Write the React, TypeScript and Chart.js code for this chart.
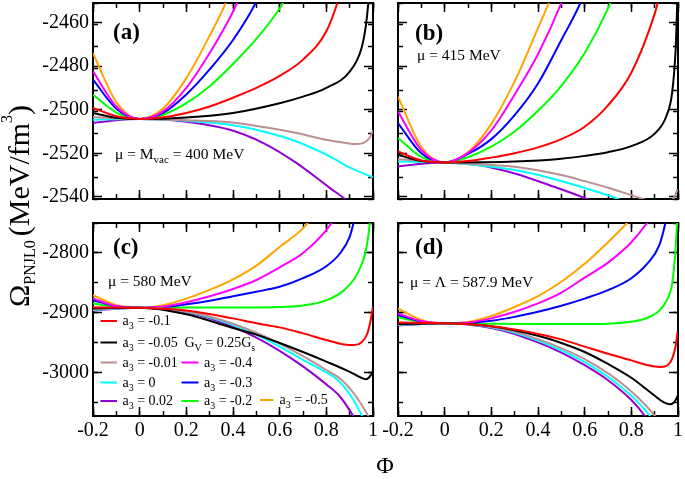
import { useEffect, useRef } from 'react';
import { Chart, registerables } from 'chart.js';

Chart.register(...registerables);

const W = 685;
const H = 479;
const SERIF = "'Liberation Serif', 'Times New Roman', Times, serif";

type Pt = [number, number];

// ---------------- Panel (a): mu = M_vac = 400 MeV ----------------
const aRed: Pt[] = [[-0.2, -2499.2], [-0.1, -2503], [0, -2504.3], [0.1, -2503.5], [0.2, -2501.5], [0.3, -2498.5], [0.4, -2494.5], [0.5, -2490], [0.6, -2484.5], [0.7, -2477], [0.8, -2464], [0.85, -2450], [0.86, -2446]];
const aBlack: Pt[] = [[-0.2, -2501.5], [-0.1, -2503.7], [0, -2504.3], [0.2, -2503.6], [0.4, -2501.5], [0.6, -2497], [0.7, -2494], [0.8, -2490], [0.9, -2482.5], [0.95, -2472], [0.97, -2461], [0.98, -2451], [0.985, -2445]];
const aBrown: Pt[] = [[-0.2, -2503.4], [-0.1, -2504], [0, -2504.3], [0.2, -2504.8], [0.387, -2505.8], [0.55, -2508.3], [0.673, -2510.7], [0.8, -2513.8], [0.887, -2515.3], [0.923, -2515.8], [0.96, -2515.2], [0.985, -2513], [1.0, -2509.5]];
const aCyan: Pt[] = [[-0.2, -2504.6], [-0.1, -2504.4], [0, -2504.3], [0.2, -2505.1], [0.387, -2506.9], [0.53, -2510], [0.673, -2514.6], [0.816, -2521.5], [0.9, -2526.5], [1.0, -2531]];
const aPurple: Pt[] = [[-0.2, -2506.1], [-0.1, -2504.8], [0, -2504.3], [0.1, -2504.5], [0.2, -2505.5], [0.387, -2509.2], [0.53, -2515.3], [0.673, -2524.5], [0.816, -2536], [0.88, -2541], [0.9, -2543]];
const aMagenta: Pt[] = [[-0.2, -2482.4], [-0.1, -2498.5], [0, -2504.3], [0.1, -2500.8], [0.2, -2490], [0.3, -2474], [0.4, -2455], [0.43, -2448]];
const aBlue: Pt[] = [[-0.2, -2486.2], [-0.1, -2499.5], [0, -2504.3], [0.1, -2501.5], [0.2, -2493], [0.3, -2481.5], [0.4, -2468], [0.5, -2450.4], [0.51, -2448]];
const aGreen: Pt[] = [[-0.2, -2493.1], [-0.1, -2501.3], [0, -2504.3], [0.1, -2502.3], [0.2, -2497], [0.3, -2489.2], [0.4, -2479], [0.5, -2467.5], [0.6, -2453.5], [0.63, -2448]];
const aOrange: Pt[] = [[-0.2, -2474], [-0.1, -2496.5], [0, -2504.3], [0.1, -2499.5], [0.2, -2485.5], [0.3, -2466], [0.373, -2450], [0.38, -2448]];

// ---------------- Panel (b): mu = 415 MeV ----------------
const bRed: Pt[] = [[-0.2, -2519.2], [-0.1, -2523.3], [0, -2524.2], [0.1, -2523.6], [0.2, -2522], [0.3, -2520], [0.4, -2517.3], [0.5, -2513.5], [0.6, -2507.8], [0.7, -2498], [0.8, -2483], [0.9, -2456], [0.92, -2448]];
const bBlack: Pt[] = [[-0.2, -2520.7], [-0.1, -2523.6], [0, -2524.2], [0.3, -2523.8], [0.5, -2522.5], [0.6, -2521.2], [0.7, -2519.5], [0.8, -2516.7], [0.9, -2511], [0.95, -2503], [0.975, -2492], [0.99, -2472], [0.997, -2450], [1.0, -2440]];
const bBrown: Pt[] = [[-0.2, -2522.7], [0, -2524.2], [0.3, -2526.2], [0.5, -2530], [0.6, -2532.8], [0.7, -2535.8], [0.8, -2539.2], [0.9, -2542.5], [0.96, -2543], [0.985, -2540], [0.998, -2536.5]];
const bCyan: Pt[] = [[-0.2, -2523.8], [0, -2524.2], [0.3, -2527.7], [0.5, -2532.7], [0.6, -2535.9], [0.7, -2539.3], [0.8, -2543.5]];
const bPurple: Pt[] = [[-0.2, -2526.1], [-0.1, -2524.8], [0, -2524.2], [0.15, -2525.5], [0.3, -2529.3], [0.45, -2534.7], [0.6, -2540.6], [0.65, -2543]];
const bMagenta: Pt[] = [[-0.2, -2500.8], [-0.1, -2518.5], [0, -2524.2], [0.1, -2519.8], [0.2, -2509.5], [0.3, -2493], [0.4, -2474.5], [0.5, -2451], [0.51, -2448]];
const bBlue: Pt[] = [[-0.2, -2506.1], [-0.1, -2520], [0, -2524.2], [0.1, -2520.3], [0.2, -2513.5], [0.3, -2502.5], [0.4, -2488], [0.5, -2468], [0.59, -2449], [0.6, -2446]];
const bGreen: Pt[] = [[-0.2, -2513], [-0.1, -2521.7], [0, -2524.2], [0.1, -2521.8], [0.2, -2517], [0.3, -2510], [0.4, -2500.5], [0.5, -2489], [0.6, -2474], [0.7, -2453.5], [0.72, -2448]];
const bOrange: Pt[] = [[-0.2, -2494], [-0.1, -2517], [0, -2524.2], [0.1, -2519.5], [0.2, -2506.5], [0.3, -2487], [0.4, -2462.5], [0.45, -2450], [0.46, -2447]];

// ---------------- Panel (c): mu = 580 MeV ----------------
const cRed: Pt[] = [[-0.2, -2890.6], [0, -2891.2], [0.2, -2896], [0.4, -2909], [0.5, -2917], [0.6, -2924], [0.7, -2934], [0.8, -2945], [0.87, -2952], [0.92, -2953.5], [0.95, -2949], [0.975, -2935], [0.99, -2912], [1.0, -2889]];
const cBlack: Pt[] = [[-0.2, -2892.3], [0, -2891.2], [0.2, -2902], [0.4, -2925], [0.5, -2936], [0.6, -2950], [0.7, -2965], [0.8, -2981], [0.9, -2998], [0.95, -3008], [0.97, -3010.5], [0.99, -3004], [1.0, -2996]];
const cBrown: Pt[] = [[-0.2, -2894], [-0.1, -2892.3], [0, -2891.2], [0.1, -2892.5], [0.2, -2897.5], [0.3, -2906], [0.4, -2918], [0.5, -2933], [0.6, -2951], [0.7, -2972], [0.8, -2995], [0.867, -3012], [0.92, -3035], [0.979, -3071], [0.99, -3079]];
const cCyan: Pt[] = [[-0.2, -2895], [-0.1, -2892.6], [0, -2891.2], [0.1, -2892.8], [0.2, -2898], [0.3, -2907], [0.4, -2920], [0.5, -2936], [0.6, -2956], [0.7, -2978], [0.8, -2999], [0.85, -3012], [0.9, -3035], [0.953, -3071], [0.97, -3083]];
const cPurple: Pt[] = [[-0.2, -2896], [-0.1, -2893], [0, -2891.2], [0.1, -2893], [0.2, -2899], [0.3, -2909], [0.4, -2923], [0.5, -2941], [0.6, -2963], [0.7, -2989], [0.8, -3019], [0.86, -3040], [0.914, -3071], [0.93, -3082]];
const cMagenta: Pt[] = [[-0.2, -2875.7], [-0.1, -2888.5], [0, -2891.2], [0.1, -2889.2], [0.2, -2882], [0.3, -2872], [0.4, -2860], [0.5, -2845], [0.6, -2824], [0.7, -2800], [0.8, -2762], [0.83, -2745]];
const cBlue: Pt[] = [[-0.2, -2878.5], [-0.1, -2889], [0, -2891.2], [0.1, -2890], [0.2, -2885.5], [0.3, -2879.5], [0.4, -2872], [0.5, -2864.5], [0.6, -2856.4], [0.7, -2842], [0.8, -2822], [0.86, -2800], [0.9, -2773], [0.92, -2745]];
const cGreen: Pt[] = [[-0.2, -2884], [-0.1, -2889.8], [0, -2891.2], [0.2, -2891], [0.4, -2890.8], [0.6, -2890], [0.7, -2887.5], [0.8, -2879], [0.87, -2864], [0.92, -2843], [0.95, -2820], [0.97, -2795], [0.985, -2755], [0.99, -2735]];
const cOrange: Pt[] = [[-0.2, -2870.2], [-0.1, -2887], [0, -2891.2], [0.1, -2887], [0.2, -2876], [0.3, -2861.5], [0.4, -2844], [0.5, -2821], [0.6, -2790], [0.7, -2759], [0.73, -2745]];

// ---------------- Panel (d): mu = Lambda = 587.9 MeV ----------------
const dRed: Pt[] = [[-0.2, -2916], [0, -2917.1], [0.2, -2922], [0.366, -2932], [0.5, -2944], [0.6, -2956], [0.7, -2968], [0.8, -2979], [0.87, -2987], [0.92, -2990], [0.95, -2988], [0.975, -2976], [0.99, -2955], [0.998, -2932]];
const dBlack: Pt[] = [[-0.2, -2918.5], [-0.1, -2917.8], [0, -2917.1], [0.2, -2922], [0.4, -2938], [0.5, -2950], [0.6, -2965], [0.7, -2985], [0.8, -3008], [0.9, -3038], [0.94, -3049], [0.964, -3052], [0.985, -3048], [1.0, -3037]];
const dBrown: Pt[] = [[-0.2, -2919.5], [-0.1, -2918], [0, -2917.1], [0.1, -2918.5], [0.2, -2923], [0.3, -2931.5], [0.4, -2943.5], [0.5, -2958.5], [0.6, -2977], [0.742, -3012], [0.82, -3038], [0.9, -3071], [0.92, -3082]];
const dCyan: Pt[] = [[-0.2, -2920], [-0.1, -2918.2], [0, -2917.1], [0.1, -2918.7], [0.2, -2924], [0.3, -2933], [0.4, -2946], [0.5, -2962], [0.6, -2982], [0.72, -3012], [0.8, -3038], [0.879, -3071], [0.9, -3083]];
const dPurple: Pt[] = [[-0.2, -2921], [-0.1, -2918.5], [0, -2917.1], [0.1, -2919], [0.2, -2925], [0.3, -2935], [0.4, -2949], [0.5, -2966], [0.6, -2987], [0.7, -3012], [0.8, -3045], [0.857, -3071], [0.88, -3085]];
const dMagenta: Pt[] = [[-0.2, -2900.6], [-0.1, -2913.5], [0, -2917.1], [0.1, -2915.8], [0.2, -2909], [0.3, -2898], [0.4, -2884], [0.5, -2866], [0.6, -2841], [0.7, -2816], [0.8, -2782], [0.867, -2750], [0.88, -2742]];
const dBlue: Pt[] = [[-0.2, -2903.3], [-0.1, -2914], [0, -2917.1], [0.1, -2916.5], [0.2, -2913], [0.3, -2906.5], [0.4, -2898], [0.5, -2888], [0.6, -2876], [0.7, -2862], [0.8, -2842], [0.87, -2817], [0.92, -2787], [0.946, -2750], [0.95, -2742]];
const dGreen: Pt[] = [[-0.2, -2907.2], [-0.1, -2915], [0, -2917.1], [0.2, -2918], [0.4, -2918.4], [0.6, -2918.4], [0.7, -2917.8], [0.8, -2914.5], [0.87, -2908], [0.92, -2896], [0.95, -2880], [0.975, -2851], [0.989, -2796], [0.996, -2750], [1.0, -2720]];
const dOrange: Pt[] = [[-0.2, -2892.3], [-0.1, -2911.5], [0, -2917.1], [0.1, -2914.8], [0.2, -2905], [0.3, -2890], [0.4, -2872], [0.5, -2848], [0.6, -2818], [0.7, -2782], [0.781, -2750], [0.8, -2741]];

// ---------------- axes ----------------
const PHI_MIN = -0.2;
const PHI_MAX = 1.0;
const PHI_MAJOR = 0.2;
const PHI_MINOR = 0.1;
const TOP_RANGE = [-2541, -2451];
const TOP_MAJOR = 20;
const TOP_MINOR = 10;
const BOT_RANGE = [-3071.7, -2750];
const BOT_MAJOR = 100;
const BOT_MINOR = 50;

// legend (a3 values)
const LEGEND_COL1: [string, string][] = [['red', '-0.1'], ['black', '-0.05'], ['brown', '-0.01'], ['cyan', '0'], ['purple', '0.02']];
const LEGEND_COL2: [string, string][] = [['magenta', '-0.4'], ['blue', '-0.3'], ['green', '-0.2']];
const LEGEND_COL3: [string, string][] = [['orange', '-0.5']];

const COLOR: Record<string, string> = {
  red: '#ff0000', black: '#000000', brown: '#bc8f8f', cyan: '#00ffff', purple: '#9400d3',
  magenta: '#ff00ff', blue: '#0000ff', green: '#00ff00', orange: '#ffa500',
};
const DRAW_ORDER = ['red', 'black', 'brown', 'cyan', 'purple', 'magenta', 'blue', 'green', 'orange'];

type Run = { t: string; s?: 'sub' | 'sup'; dx?: number };

interface Panel {
  id: string;
  area: { l: number; t: number; r: number; b: number };
  yRange: number[];
  yMajor: number;
  yMinor: number;
  yLabels: boolean;
  xLabels: boolean;
  series: Record<string, Pt[]>;
  tag: string;
  tagPos: [number, number];
  mu: Run[];
  muPos: [number, number];
}

const PANELS: Panel[] = [
  {
    id: 'a', area: { l: 93, t: 3, r: 373, b: 199 }, yRange: TOP_RANGE, yMajor: TOP_MAJOR, yMinor: TOP_MINOR,
    yLabels: true, xLabels: false,
    series: { red: aRed, black: aBlack, brown: aBrown, cyan: aCyan, purple: aPurple, magenta: aMagenta, blue: aBlue, green: aGreen, orange: aOrange },
    tag: '(a)', tagPos: [113, 39], mu: [{ t: 'μ = M' }, { t: 'vac', s: 'sub' }, { t: ' = 400 MeV' }], muPos: [115, 159],
  },
  {
    id: 'b', area: { l: 398, t: 3, r: 678, b: 199 }, yRange: TOP_RANGE, yMajor: TOP_MAJOR, yMinor: TOP_MINOR,
    yLabels: false, xLabels: false,
    series: { red: bRed, black: bBlack, brown: bBrown, cyan: bCyan, purple: bPurple, magenta: bMagenta, blue: bBlue, green: bGreen, orange: bOrange },
    tag: '(b)', tagPos: [415, 40], mu: [{ t: 'μ = 415 MeV' }], muPos: [417, 60],
  },
  {
    id: 'c', area: { l: 93, t: 223, r: 373, b: 416 }, yRange: BOT_RANGE, yMajor: BOT_MAJOR, yMinor: BOT_MINOR,
    yLabels: true, xLabels: true,
    series: { red: cRed, black: cBlack, brown: cBrown, cyan: cCyan, purple: cPurple, magenta: cMagenta, blue: cBlue, green: cGreen, orange: cOrange },
    tag: '(c)', tagPos: [113, 254], mu: [{ t: 'μ = 580 MeV' }], muPos: [108, 286],
  },
  {
    id: 'd', area: { l: 398, t: 223, r: 678, b: 416 }, yRange: BOT_RANGE, yMajor: BOT_MAJOR, yMinor: BOT_MINOR,
    yLabels: false, xLabels: true,
    series: { red: dRed, black: dBlack, brown: dBrown, cyan: dCyan, purple: dPurple, magenta: dMagenta, blue: dBlue, green: dGreen, orange: dOrange },
    tag: '(d)', tagPos: [415, 254], mu: [{ t: 'μ = Λ = 587.9 MeV' }], muPos: [410, 287],
  },
];

const Y_LABEL_BOX = 60;
const X_LABEL_BOX = 40;

function drawRuns(ctx: CanvasRenderingContext2D, x: number, y: number, list: Run[], size: number,
  o: { bold?: boolean; sub?: number; subDy?: number; supDy?: number } = {}) {
  let cx = x;
  const subSize = o.sub ?? size * 0.7;
  for (const r of list) {
    const fs = r.s ? subSize : size;
    ctx.font = `${o.bold ? 'bold ' : ''}${fs}px ${SERIF}`;
    const dy = r.s === 'sub' ? (o.subDy ?? size * 0.3) : r.s === 'sup' ? -(o.supDy ?? size * 0.5) : 0;
    cx += r.dx ?? 0;
    ctx.fillText(r.t, cx, y + dy);
    cx += ctx.measureText(r.t).width;
  }
  return cx;
}

function fmt(v: number) {
  const r = Math.round(v * 10) / 10;
  return Object.is(r, -0) ? '0' : String(r);
}

function tickScale(position: string, min: number, max: number, step: number, tickLen: number,
  labels: boolean, border: boolean, padding: number, boxSize: number, weight: number) {
  const horizontal = position === 'top' || position === 'bottom';
  return {
    type: 'linear',
    position,
    min,
    max,
    z: 1,
    weight,
    afterFit: (s: any) => {
      if (horizontal) s.height = boxSize; else s.width = boxSize;
      s.paddingLeft = 0; s.paddingRight = 0; s.paddingTop = 0; s.paddingBottom = 0;
    },
    grid: { display: true, drawOnChartArea: false, drawTicks: true, tickLength: tickLen, tickWidth: 1.5, tickColor: '#000' },
    border: { display: border, color: '#000', width: 2 },
    ticks: {
      display: labels, stepSize: step, autoSkip: false, includeBounds: false, maxRotation: 0, minRotation: 0,
      padding, color: '#000', font: { family: SERIF, size: 20 }, callback: (v: any) => fmt(Number(v)),
    },
  };
}

function makeChart(canvas: HTMLCanvasElement, p: Panel, first: boolean) {
  const [ymin, ymax] = p.yRange;
  const MAJ = -9;
  const MIN = -5;
  const yBox = p.yLabels ? Y_LABEL_BOX : 0;
  const xBox = p.xLabels ? X_LABEL_BOX : 0;
  const annot = {
    id: 'annot-' + p.id,
    afterDraw(chart: any) {
      const ctx: CanvasRenderingContext2D = chart.ctx;
      ctx.save();
      ctx.fillStyle = '#000';
      ctx.textBaseline = 'alphabetic';
      ctx.textAlign = 'left';
      drawRuns(ctx, p.tagPos[0], p.tagPos[1], [{ t: p.tag }], 23, { bold: true });
      drawRuns(ctx, p.muPos[0], p.muPos[1], p.mu, 15.5, { sub: 11, subDy: 4 });
      if (p.id === 'c') {
        const rowsY = [325, 346.5, 366.5, 386.5, 405];
        const drawEntry = (key: string, val: string, lx0: number, lx1: number, tx: number, by: number) => {
          ctx.strokeStyle = COLOR[key];
          ctx.lineWidth = 2;
          ctx.beginPath();
          ctx.moveTo(lx0, by - 4);
          ctx.lineTo(lx1, by - 4);
          ctx.stroke();
          drawRuns(ctx, tx, by, [{ t: 'a' }, { t: '3', s: 'sub' }, { t: ' = ' + val }], 14, { sub: 10, subDy: 4 });
        };
        LEGEND_COL1.forEach(([k, v], i) => drawEntry(k, v, 100.5, 117, 122.5, rowsY[i]));
        LEGEND_COL2.forEach(([k, v], i) => drawEntry(k, v, 181.5, 198.5, 204, rowsY[i + 2]));
        LEGEND_COL3.forEach(([k, v]) => drawEntry(k, v, 260, 273.5, 279.5, 404));
        drawRuns(ctx, 184.5, rowsY[1], [{ t: 'G' }, { t: 'V', s: 'sub' }, { t: ' = 0.25G' }, { t: 's', s: 'sub' }], 14, { sub: 10, subDy: 4 });
      }
      if (first) {
        ctx.font = `24px ${SERIF}`;
        ctx.textAlign = 'center';
        ctx.fillText('Φ', 385, 473);
        ctx.textAlign = 'left';
        ctx.save();
        ctx.translate(29, 307);
        ctx.rotate(-Math.PI / 2);
        drawRuns(ctx, 0, 0, [{ t: 'Ω' }, { t: 'PNJL0', s: 'sub' }, { t: '(MeV/fm', dx: 4 }, { t: '3', s: 'sup' }, { t: ')' }], 30, { sub: 16, subDy: 6, supDy: 17 });
        ctx.restore();
      }
      ctx.restore();
    },
  };

  const datasets = DRAW_ORDER.map((k) => ({
    label: k,
    data: p.series[k].map(([x, y]) => ({ x, y })),
    borderColor: COLOR[k],
    backgroundColor: COLOR[k],
    borderWidth: 2,
    pointRadius: 0,
    fill: false,
    cubicInterpolationMode: 'monotone' as const,
    xAxisID: 'x',
    yAxisID: 'y',
  }));

  return new Chart(canvas, {
    type: 'line',
    data: { datasets },
    plugins: [annot],
    options: {
      animation: false,
      responsive: false,
      events: [],
      layout: { padding: { left: p.area.l - yBox, top: p.area.t, right: W - p.area.r, bottom: H - p.area.b - xBox } },
      plugins: { legend: { display: false }, tooltip: { enabled: false } },
      scales: {
        x: tickScale('bottom', PHI_MIN, PHI_MAX, PHI_MAJOR, MAJ, p.xLabels, true, 12, xBox, 1),
        xm: tickScale('bottom', PHI_MIN, PHI_MAX, PHI_MINOR, MIN, false, false, 0, 0, 0),
        xt: tickScale('top', PHI_MIN, PHI_MAX, PHI_MAJOR, MAJ, false, true, 0, 0, 0),
        xtm: tickScale('top', PHI_MIN, PHI_MAX, PHI_MINOR, MIN, false, false, 0, 0, 0),
        y: tickScale('left', ymin, ymax, p.yMajor, MAJ, p.yLabels, true, 13, yBox, 1),
        ym: tickScale('left', ymin, ymax, p.yMinor, MIN, false, false, 0, 0, 0),
        yr: tickScale('right', ymin, ymax, p.yMajor, MAJ, false, true, 0, 0, 0),
        yrm: tickScale('right', ymin, ymax, p.yMinor, MIN, false, false, 0, 0, 0),
      } as any,
    },
  } as any);
}

export default function App() {
  const refs = useRef<(HTMLCanvasElement | null)[]>([]);
  useEffect(() => {
    const charts = PANELS.map((p, i) => makeChart(refs.current[i]!, p, i === 0));
    return () => charts.forEach((c) => c.destroy());
  }, []);
  return (
    <div style={{ position: 'fixed', left: 0, top: 0, width: W, height: H, background: '#fff' }}>
      {PANELS.map((p, i) => (
        <canvas
          key={p.id}
          ref={(el) => { refs.current[i] = el; }}
          width={W}
          height={H}
          style={{ position: 'absolute', left: 0, top: 0 }}
        />
      ))}
    </div>
  );
}
